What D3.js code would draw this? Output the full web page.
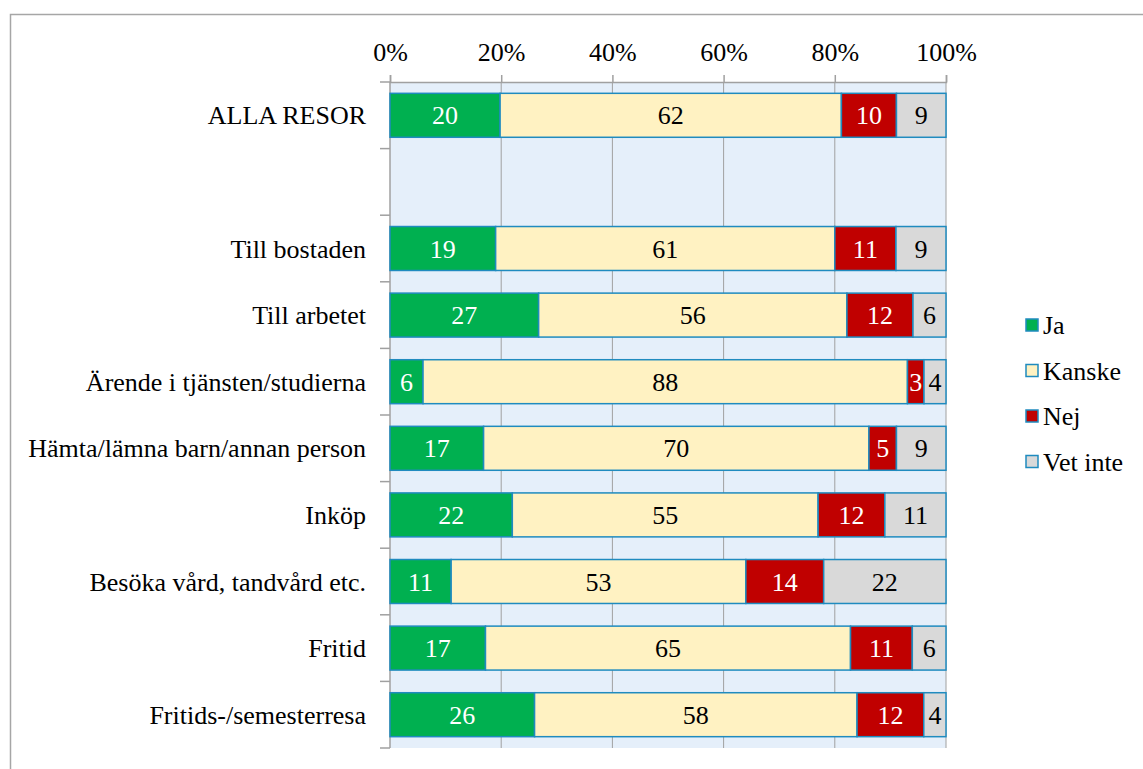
<!DOCTYPE html>
<html>
<head>
<meta charset="utf-8">
<script src="https://cdn.jsdelivr.net/npm/d3@7"></script>
<style>
  body { margin: 0; background: #fff; }
  svg { display: block; }
</style>
</head>
<body>
<svg id="chart" width="1143" height="769" font-family="Liberation Serif"></svg>
<script>
// Survey answers per trip purpose (percent, as labelled)
const categories = [
  "ALLA RESOR",
  "",
  "Till bostaden",
  "Till arbetet",
  "Ärende i tjänsten/studierna",
  "Hämta/lämna barn/annan person",
  "Inköp",
  "Besöka vård, tandvård etc.",
  "Fritid",
  "Fritids-/semesterresa"
];
const seriesNames = ["Ja", "Kanske", "Nej", "Vet inte"];
const ja      = [20, null, 19, 27, 6, 17, 22, 11, 17, 26];
const kanske  = [62, null, 61, 56, 88, 70, 55, 53, 65, 58];
const nej     = [10, null, 11, 12, 3, 5, 12, 14, 11, 12];
const vetInte = [9, null, 9, 6, 4, 9, 11, 22, 6, 4];
const tickValues = [0, 0.2, 0.4, 0.6, 0.8, 1.0];

const FONT = "Liberation Serif";
const FS = 26;
const colors = ["#00B050", "#FFF2C2", "#C00000", "#D9D9D9"];
const labelColors = ["#ffffff", "#000000", "#ffffff", "#000000"];
const outline = "#1F8BBF";
const axisGray = "#a0a0a0";

const rows = categories.map((c, i) => ({
  key: "r" + i,
  name: c,
  values: [ja[i], kanske[i], nej[i], vetInte[i]]
}));

const svg = d3.select("#chart");
const W = 1143, H = 769;
const plot = { left: 390, right: 946, top: 82, bottom: 748 };

// outer frame
svg.append("rect")
  .attr("x", 10.5).attr("y", 14.5)
  .attr("width", W).attr("height", H)
  .attr("fill", "#fff").attr("stroke", "#a6a6a6").attr("stroke-width", 1.5);

const x = d3.scaleLinear().domain([0, 1]).range([plot.left, plot.right]);
const y = d3.scaleBand().domain(rows.map(r => r.key))
  .range([plot.top, plot.bottom]).paddingInner(0.34).paddingOuter(0.17);

// plot background
svg.append("rect")
  .attr("x", plot.left).attr("y", plot.top)
  .attr("width", plot.right - plot.left).attr("height", plot.bottom - plot.top)
  .attr("fill", "#E5EFFA");

// vertical gridlines
svg.append("g").selectAll("line").data(tickValues.slice(1)).join("line")
  .attr("x1", d => x(d)).attr("x2", d => x(d))
  .attr("y1", plot.top).attr("y2", plot.bottom)
  .attr("stroke", axisGray).attr("stroke-width", 1);

// top axis
const xAxis = d3.axisTop(x).tickValues(tickValues)
  .tickFormat(d3.format(".0%")).tickSize(7).tickPadding(14);
const gx = svg.append("g").attr("transform", `translate(0,${plot.top})`).call(xAxis)
  .attr("font-family", FONT).attr("font-size", FS);
gx.select(".domain").attr("stroke", axisGray).attr("stroke-width", 1.5);
gx.selectAll(".tick line").attr("stroke", axisGray).attr("stroke-width", 1.5);
gx.selectAll(".tick text").attr("fill", "#000").attr("font-family", FONT);

// left axis with ticks between rows
const yLeft = svg.append("g");
yLeft.append("line")
  .attr("x1", plot.left).attr("x2", plot.left)
  .attr("y1", plot.top).attr("y2", plot.bottom)
  .attr("stroke", axisGray).attr("stroke-width", 1.5);
const boundaries = d3.range(rows.length + 1).map(i => plot.top + i * (plot.bottom - plot.top) / rows.length);
yLeft.selectAll("line.tk").data(boundaries).join("line").attr("class", "tk")
  .attr("x1", plot.left - 10).attr("x2", plot.left)
  .attr("y1", d => d).attr("y2", d => d)
  .attr("stroke", axisGray).attr("stroke-width", 1.5);

// category labels
svg.append("g").selectAll("text").data(rows).join("text")
  .attr("x", 366)
  .attr("y", d => y(d.key) + y.bandwidth() / 2)
  .attr("dy", "0.35em")
  .attr("text-anchor", "end")
  .attr("font-size", FS)
  .attr("font-family", FONT)
  .attr("fill", "#000")
  .text(d => d.name);

// stacked segments normalised to the row total
const segs = [];
rows.forEach(r => {
  if (r.values[0] == null) return;
  const total = d3.sum(r.values);
  let acc = 0;
  r.values.forEach((v, j) => {
    segs.push({ key: r.key, j, v, x0: acc / total, x1: (acc + v) / total });
    acc += v;
  });
});

const g = svg.append("g");
g.selectAll("rect").data(segs).join("rect")
  .attr("x", d => x(d.x0))
  .attr("y", d => y(d.key))
  .attr("width", d => x(d.x1) - x(d.x0))
  .attr("height", y.bandwidth())
  .attr("fill", d => colors[d.j])
  .attr("stroke", outline)
  .attr("stroke-width", 1.5);

g.selectAll("text").data(segs).join("text")
  .attr("x", d => (x(d.x0) + x(d.x1)) / 2)
  .attr("y", d => y(d.key) + y.bandwidth() / 2)
  .attr("dy", "0.35em")
  .attr("text-anchor", "middle")
  .attr("font-size", FS)
  .attr("font-family", FONT)
  .attr("fill", d => labelColors[d.j])
  .text(d => d.v);

// legend
const lg = svg.append("g").selectAll("g").data(seriesNames).join("g")
  .attr("transform", (d, i) => `translate(1026,${325 + i * 45.5})`);
lg.append("rect")
  .attr("x", 0).attr("y", -6).attr("width", 12).attr("height", 12)
  .attr("fill", (d, i) => colors[i])
  .attr("stroke", outline).attr("stroke-width", 1.5);
lg.append("text")
  .attr("x", 17).attr("y", 0).attr("dy", "0.35em")
  .attr("font-size", FS)
  .attr("font-family", FONT)
  .attr("fill", "#000")
  .text(d => d);
</script>
</body>
</html>
